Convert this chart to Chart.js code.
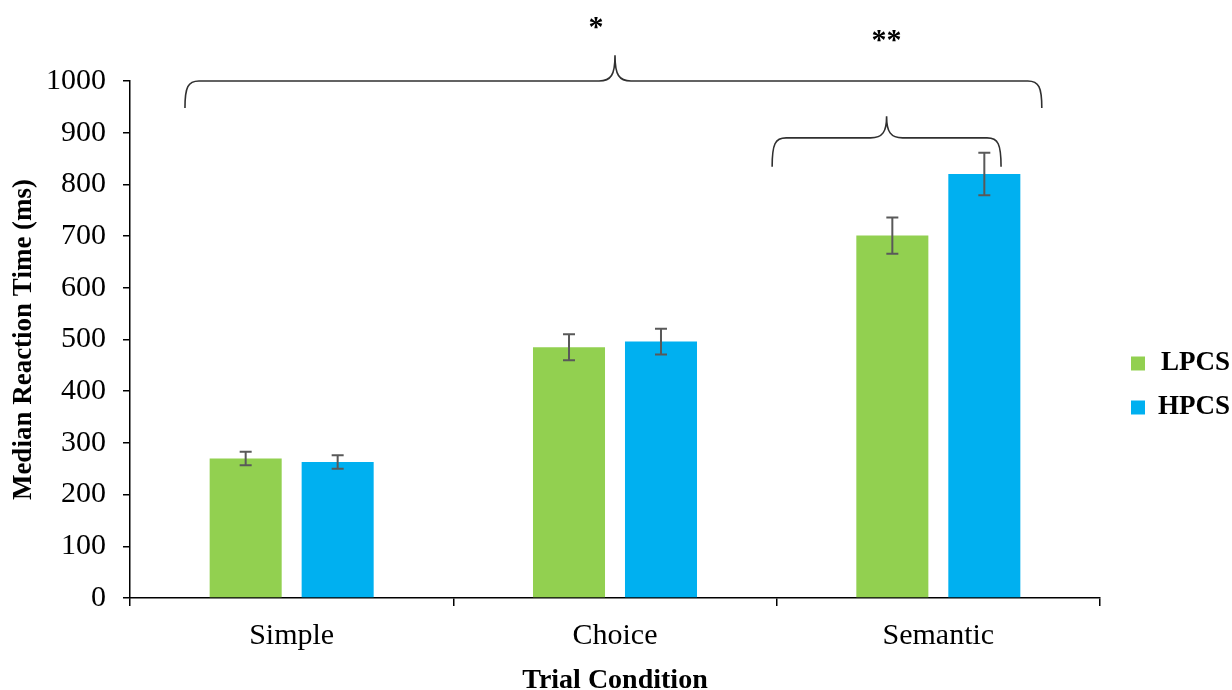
<!DOCTYPE html>
<html>
<head>
<meta charset="utf-8">
<script src="https://cdn.jsdelivr.net/npm/chart.js@4.4.1/dist/chart.umd.min.js"></script>
<style>
	html, body { margin: 0; padding: 0; background: #fff; }
	#wrap { width: 1232px; height: 690px; position: relative; }
</style>
</head>
<body>
<div id="wrap"><canvas id="rt_chart"></canvas></div>
<script>
// données
const categories = ['Simple', 'Choice', 'Semantic'];
const seriesNames = ['LPCS', 'HPCS'];
const lpcsValues = [270, 485, 701];
const hpcsValues = [263, 496, 820];
const lpcsErrors = [13, 25, 35];
const hpcsErrors = [13, 25, 41];
const yTicks = [0, 100, 200, 300, 400, 500, 600, 700, 800, 900, 1000];

// accolades de significativité (x en index de catégorie, y en ms)
const braces = [
	{ from: -0.33, to: 2.32, tip: 1.0, y: 1000, top: 1050, end: 948, label: '*', labelX: 0.941, labelY: 1087 },
	{ from: 1.486, to: 2.194, tip: 1.84, y: 890, top: 932, end: 834, label: '**', labelX: 1.84, labelY: 1062 }
];

const serif = '"Liberation Serif", "Times New Roman", serif';

const errorBarsPlugin = {
	id: 'errorBars',
	afterDatasetsDraw(chart)
	{
		const ctx = chart.ctx;
		const yScale = chart.scales.y;
		ctx.save();
		ctx.strokeStyle = '#595959';
		ctx.lineWidth = 2;
		chart.data.datasets.forEach((ds, di) => {
			const meta = chart.getDatasetMeta(di);
			meta.data.forEach((bar, i) => {
				const v = ds.data[i];
				const e = ds.errors[i];
				const yHi = yScale.getPixelForValue(v + e);
				const yLo = yScale.getPixelForValue(v - e);
				ctx.beginPath();
				ctx.moveTo(bar.x, yHi); ctx.lineTo(bar.x, yLo);
				ctx.moveTo(bar.x - 6, yHi); ctx.lineTo(bar.x + 6, yHi);
				ctx.moveTo(bar.x - 6, yLo); ctx.lineTo(bar.x + 6, yLo);
				ctx.stroke();
			});
		});
		ctx.restore();
	}
};

const bracesPlugin = {
	id: 'braces',
	afterDraw(chart)
	{
		const ctx = chart.ctx;
		const xs = chart.scales.x;
		const ys = chart.scales.y;
		const px = v => xs.getPixelForValue(v);
		const py = v => ys.getPixelForValue(v);
		ctx.save();
		braces.forEach(b => {
			const xL = px(b.from), xR = px(b.to), xT = px(b.tip);
			const yH = py(b.y), yT = py(b.top), yE = py(b.end);
			const r = 14, r2 = 16;
			ctx.strokeStyle = '#303030';
			ctx.lineWidth = 1.6;
			ctx.beginPath();
			ctx.moveTo(xL, yE);
			ctx.bezierCurveTo(xL, yH + 6, xL + 3, yH, xL + r, yH);
			ctx.lineTo(xT - r2, yH);
			ctx.bezierCurveTo(xT - 4, yH, xT, yH - 6, xT, yT);
			ctx.bezierCurveTo(xT, yH - 6, xT + 4, yH, xT + r2, yH);
			ctx.lineTo(xR - r, yH);
			ctx.bezierCurveTo(xR - 3, yH, xR, yH + 6, xR, yE);
			ctx.stroke();

			ctx.fillStyle = '#000';
			ctx.font = 'bold 30px ' + serif;
			ctx.textAlign = 'center';
			ctx.textBaseline = 'alphabetic';
			ctx.fillText(b.label, px(b.labelX), py(b.labelY));
		});
		ctx.restore();
	}
};

function drawChart()
{
	const ctx = document.getElementById('rt_chart').getContext('2d');
	const data = {
		labels: categories,
		datasets: [
			{
				label: seriesNames[0],
				data: lpcsValues,
				errors: lpcsErrors,
				backgroundColor: '#92D050',
				borderWidth: 0
			},
			{
				label: seriesNames[1],
				data: hpcsValues,
				errors: hpcsErrors,
				backgroundColor: '#00B0F0',
				borderWidth: 0
			}
		]
	};

	const config = {
		type: 'bar',
		data: data,
		options: {
			responsive: true,
			maintainAspectRatio: false,
			animation: false,
			categoryPercentage: 0.569,
			barPercentage: 0.783,
			layout: { padding: { top: 81, left: 4, right: 2, bottom: 0 } },
			plugins: {
				tooltip: { enabled: false },
				legend: {
					position: 'right',
					maxWidth: 116,
					labels: {
						boxWidth: 14,
						boxHeight: 14,
						padding: 17,
						textAlign: 'right',
						color: '#000',
						font: { family: serif, size: 27, weight: 'bold' }
					}
				}
			},
			scales: {
				x: {
					grid: { display: true, drawOnChartArea: false, drawTicks: true, tickLength: 8, color: '#000', lineWidth: 1.5 },
					border: { display: true, color: '#000', width: 1.5 },
					ticks: { color: '#000', padding: 12, font: { family: serif, size: 30 } },
					title: {
						display: true,
						text: 'Trial Condition',
						color: '#000',
						padding: { top: 0, bottom: -5 },
						font: { family: serif, size: 28, weight: 'bold', lineHeight: 1 }
					},
					afterFit: scale => { scale.height = 92; }
				},
				y: {
					min: 0,
					max: 1000,
					afterBuildTicks: scale => { scale.ticks = yTicks.map(v => ({ value: v })); },
					grid: { display: true, drawOnChartArea: false, drawTicks: true, tickLength: 7, color: '#000', lineWidth: 1.5 },
					border: { display: true, color: '#000', width: 1.5 },
					ticks: { color: '#000', padding: 17, font: { family: serif, size: 30 }, callback: v => String(v) },
					title: {
						display: true,
						text: 'Median Reaction Time (ms)',
						color: '#000',
						padding: { top: 4, bottom: 4 },
						font: { family: serif, size: 27, weight: 'bold' }
					},
					afterFit: scale => { scale.width = 126; }
				},
				// axe vide : juste l'espace entre le graphe et la légende
				gap: {
					type: 'linear',
					position: 'right',
					display: true,
					grid: { display: false },
					border: { display: false },
					ticks: { display: false },
					afterFit: scale => { scale.width = 14; }
				}
			}
		},
		plugins: [errorBarsPlugin, bracesPlugin]
	};

	new Chart(ctx, config);
}

document.addEventListener('DOMContentLoaded', function()
{
	drawChart();
});
</script>
</body>
</html>
